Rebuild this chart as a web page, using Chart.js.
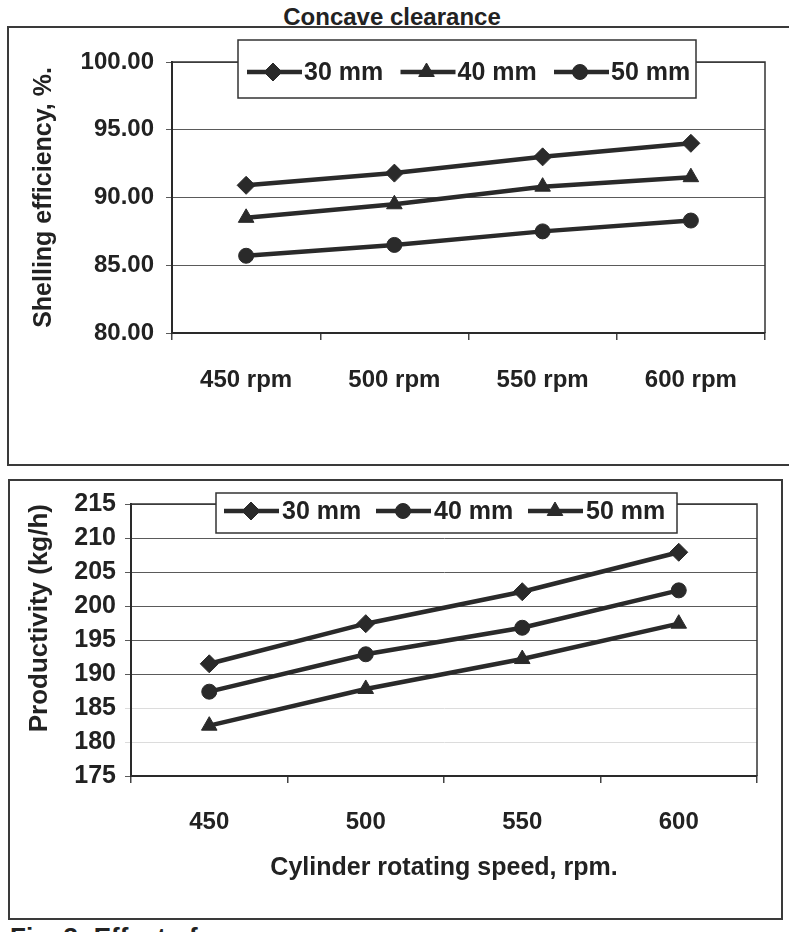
<!DOCTYPE html>
<html>
<head>
<meta charset="utf-8">
<script src="https://cdn.jsdelivr.net/npm/chart.js@4.4.1/dist/chart.umd.min.js"></script>
<style>
html,body{margin:0;padding:0;background:#fff;width:789px;height:932px;overflow:hidden;font-family:"Liberation Sans",Arial,sans-serif;color:#222;}
.box{position:absolute;border:2px solid #3a3a3a;box-sizing:border-box;}
.wrap{position:absolute;left:0;width:789px;}
#title{position:absolute;left:272px;top:3px;width:240px;text-align:center;font-weight:bold;font-size:24px;line-height:28px;}
#caption{position:absolute;left:10px;top:922px;font-weight:bold;font-size:26px;line-height:30px;white-space:nowrap;}
</style>
</head>
<body>
<div class="box" style="left:7px;top:26px;width:790px;height:440px;"></div>
<div class="box" style="left:8px;top:479px;width:775px;height:441px;"></div>
<div id="title">Concave clearance</div>
<div class="wrap" style="top:0;height:470px;"><canvas id="c1" width="789" height="470"></canvas></div>
<div class="wrap" style="top:470px;height:440px;"><canvas id="c2" width="789" height="440"></canvas></div>
<div id="caption">Fig. 3: Effect of</div>
<script>
// ---------- data ----------
const topCategories = ['450 rpm', '500 rpm', '550 rpm', '600 rpm'];
const topSeriesNames = ['30 mm', '40 mm', '50 mm'];
const shelling30 = [90.9, 91.8, 93.0, 94.0];
const shelling40 = [88.5, 89.5, 90.8, 91.5];
const shelling50 = [85.7, 86.5, 87.5, 88.3];
const topYTicks = [80, 85, 90, 95, 100];

const bottomCategories = ['450', '500', '550', '600'];
const bottomSeriesNames = ['30 mm', '40 mm', '50 mm'];
const prod30 = [191.5, 197.4, 202.1, 207.9];
const prod40 = [187.4, 192.9, 196.8, 202.3];
const prod50 = [182.4, 187.8, 192.2, 197.4];
const bottomYTicks = [175, 180, 185, 190, 195, 200, 205, 210, 215];

// ---------- styling ----------
const FAMILY = '"Liberation Sans", Arial, sans-serif';
const INK = '#2a2a2a';

function series(label, data, style, r) {
  return {
    label, data,
    borderColor: INK, backgroundColor: INK, borderWidth: 4.5,
    pointStyle: style, pointRadius: r, pointBorderWidth: 1,
    pointBackgroundColor: INK, pointBorderColor: INK, tension: 0
  };
}

function drawMarker(ctx, style, r, x, y) {
  if (Chart.helpers && Chart.helpers.drawPoint) {
    Chart.helpers.drawPoint(ctx, {pointStyle: style, radius: r, rotation: 0, borderWidth: 1}, x, y);
    return;
  }
  ctx.beginPath();
  if (style === 'circle') ctx.arc(x, y, r, 0, Math.PI * 2);
  else if (style === 'triangle') { ctx.moveTo(x, y - r); ctx.lineTo(x + r * 0.87, y + r * 0.5); ctx.lineTo(x - r * 0.87, y + r * 0.5); ctx.closePath(); }
  else { ctx.moveTo(x, y - r); ctx.lineTo(x + r, y); ctx.lineTo(x, y + r); ctx.lineTo(x - r, y); ctx.closePath(); }
  ctx.fill(); ctx.stroke();
}

const boxLegend = {
  id: 'boxLegend',
  afterDraw(chart, args, o) {
    const ctx = chart.ctx;
    ctx.save();
    ctx.fillStyle = '#fff';
    ctx.fillRect(o.x, o.y, o.w, o.h);
    ctx.lineWidth = 1.5; ctx.strokeStyle = '#333';
    ctx.strokeRect(o.x, o.y, o.w, o.h);
    chart.data.datasets.forEach((d, i) => {
      const sx = o.startX + i * o.step;
      ctx.strokeStyle = d.borderColor; ctx.lineWidth = d.borderWidth;
      ctx.beginPath(); ctx.moveTo(sx, o.cy); ctx.lineTo(sx + o.lineLen, o.cy); ctx.stroke();
      ctx.fillStyle = d.pointBackgroundColor; ctx.strokeStyle = d.pointBorderColor; ctx.lineWidth = 1;
      drawMarker(ctx, d.pointStyle, d.pointRadius, sx + o.markX, o.cy);
      ctx.fillStyle = '#222';
      ctx.font = 'bold 25px ' + FAMILY;
      ctx.textBaseline = 'middle'; ctx.textAlign = 'left';
      ctx.fillText(d.label, sx + o.textX, o.cy + 1);
    });
    ctx.restore();
  }
};

const frame = {
  id: 'frame',
  beforeDatasetsDraw(chart, args, o) {
    const {left, top, right, bottom} = chart.chartArea;
    const ctx = chart.ctx;
    ctx.save();
    ctx.strokeStyle = o.color; ctx.lineWidth = o.width;
    ctx.beginPath();
    ctx.moveTo(left, top); ctx.lineTo(right, top); ctx.lineTo(right, bottom);
    ctx.stroke();
    ctx.restore();
  }
};

function makeOptions(cfg) {
  return {
    responsive: false, animation: false, devicePixelRatio: 1,
    layout: {padding: cfg.padding},
    plugins: {
      legend: {display: false}, tooltip: {enabled: false}, title: {display: false},
      boxLegend: cfg.legend,
      frame: {color: '#333', width: 1.5}
    },
    scales: {
      x: {
        type: 'category', offset: true,
        grid: {offset: true, drawOnChartArea: false, drawTicks: true, tickLength: 7, color: '#444', lineWidth: 1.5},
        border: {display: true, color: '#2a2a2a', width: 2},
        ticks: {color: '#222', font: {family: FAMILY, size: 24, weight: 'bold'}, padding: cfg.xPad, maxRotation: 0, autoSkip: false},
        title: cfg.xTitle,
        afterFit(s) { s.height = cfg.xHeight; }
      },
      y: {
        min: cfg.yTicks[0], max: cfg.yTicks[cfg.yTicks.length - 1],
        afterBuildTicks(s) { s.ticks = cfg.yTicks.map(v => ({value: v})); },
        ticks: {color: '#222', font: {family: FAMILY, size: cfg.yFont, weight: 'bold'}, padding: cfg.yPad, callback: cfg.yFmt},
        grid: {color: cfg.gridColor, lineWidth: 1, tickLength: 6},
        border: {display: true, color: '#2a2a2a', width: 2},
        title: cfg.yTitle,
        afterFit(s) { s.width = cfg.yWidth; }
      }
    }
  };
}

new Chart(document.getElementById('c1'), {
  type: 'line',
  data: {
    labels: topCategories,
    datasets: [
      series(topSeriesNames[0], shelling30, 'rectRot', 9),
      series(topSeriesNames[1], shelling40, 'triangle', 9),
      series(topSeriesNames[2], shelling50, 'circle', 7.5)
    ]
  },
  options: makeOptions({
    padding: {top: 62, right: 24, left: 0, bottom: 0},
    yTicks: topYTicks, yFont: 24, yPad: 12, yWidth: 172,
    yFmt: v => Number(v).toFixed(2),
    gridColor: '#5a5a5a',
    yTitle: {display: true, text: 'Shelling efficiency, %.', color: '#222', font: {family: FAMILY, size: 25, weight: 'bold'}, padding: {top: 29, bottom: 0}},
    xTitle: {display: false},
    xPad: 26, xHeight: 137,
    legend: {x: 238, y: 40, w: 458, h: 58, startX: 247, step: 153.5, lineLen: 55, markX: 26, textX: 57, cy: 72}
  }),
  plugins: [frame, boxLegend]
});

new Chart(document.getElementById('c2'), {
  type: 'line',
  data: {
    labels: bottomCategories,
    datasets: [
      series(bottomSeriesNames[0], prod30, 'rectRot', 9),
      series(bottomSeriesNames[1], prod40, 'circle', 7.5),
      series(bottomSeriesNames[2], prod50, 'triangle', 9)
    ]
  },
  options: makeOptions({
    padding: {top: 34, right: 32, left: 0, bottom: 0},
    yTicks: bottomYTicks, yFont: 25, yPad: 9, yWidth: 131,
    yFmt: v => String(v),
    gridColor: c => (c.tick && (c.tick.value === 180 || c.tick.value === 185)) ? '#dcdcdc' : '#5a5a5a',
    yTitle: {display: true, text: 'Productivity (kg/h)', align: 'end', color: '#222', font: {family: FAMILY, size: 26, weight: 'bold'}, padding: {top: 24, bottom: 0}},
    xTitle: {display: true, text: 'Cylinder rotating speed, rpm.', color: '#222', font: {family: FAMILY, size: 25, weight: 'bold'}, padding: {top: 0, bottom: 27}},
    xPad: 25, xHeight: 134,
    legend: {x: 216, y: 23, w: 461, h: 40, startX: 224, step: 152, lineLen: 55, markX: 27, textX: 58, cy: 41}
  }),
  plugins: [frame, boxLegend]
});
</script>
</body>
</html>
